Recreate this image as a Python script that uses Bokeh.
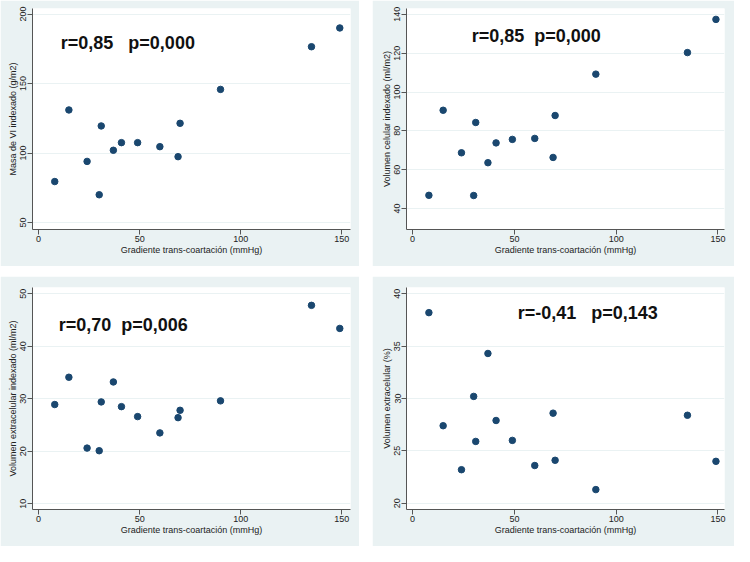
from bokeh.plotting import figure
from bokeh.layouts import row, column
from bokeh.models import FixedTicker, Range1d
from bokeh.core.properties import value
from bokeh.embed import file_html
from bokeh.resources import INLINE

# Data
gradiente = [8, 15, 24, 30, 31, 37, 41, 49, 60, 69, 70, 90, 135, 149]
masa_vi = [79.5, 131, 94, 70, 119.5, 102, 107.5, 107.5, 104.6, 97.4, 121.4, 145.8, 176.5, 190]
vol_celular = [46.8, 90.6, 68.7, 46.7, 84.3, 63.6, 73.8, 75.6, 76.1, 66.3, 87.9, 109.2, 120.3, 137.4]
vol_extracel = [28.9, 34.1, 20.6, 20.1, 29.4, 33.2, 28.5, 26.6, 23.5, 26.4, 27.8, 29.6, 47.8, 43.4]
vol_extra_pct = [38.2, 27.4, 23.2, 30.2, 25.9, 34.3, 27.9, 26.0, 23.6, 28.6, 24.1, 21.3, 28.4, 24.0]

x_ticks = [0, 50, 100, 150]
y_ticks_1 = [50, 100, 150, 200]
y_ticks_2 = [40, 60, 80, 100, 120, 140]
y_ticks_3 = [10, 20, 30, 40, 50]
y_ticks_4 = [20, 25, 30, 35, 40]

x_title = "Gradiente trans-coartación (mmHg)"
y_titles = ["Masa de VI indexado (g/m2)", "Volumen celular indexado (ml/m2)",
            "Volumen extracelular indexado (ml/m2)", "Volumen extracelular (%)"]
NB = "\u00a0"
stats = ["r=0,85" + NB * 3 + "p=0,000", "r=0,85" + NB * 2 + "p=0,000",
         "r=0,70" + NB * 2 + "p=0,006", "r=-0,41" + NB * 3 + "p=0,143"]
stat_x = [11, 29, 10, 51.6]
stat_y = [179, 128.7, 44.0, 38.2]

BG = "#eaf2f3"
NAVY = "#1a476f"
FONT = "Liberation Sans"
FONT_V = value(FONT)


def panel(yvals, yticks, xr, yr, ytitle, stat, sx, sy, w, h, ml, mr, mt, mb):
    p = figure(width=w, height=h, output_backend="svg", toolbar_location=None,
               x_range=Range1d(*xr), y_range=Range1d(*yr),
               min_border_left=ml, min_border_right=mr, min_border_top=mt,
               min_border_bottom=mb)
    p.border_fill_color = BG
    p.background_fill_color = "white"
    p.outline_line_color = None
    p.xgrid.visible = False
    p.ygrid.grid_line_color = BG
    p.ygrid.grid_line_width = 1
    p.xaxis.ticker = FixedTicker(ticks=x_ticks)
    p.yaxis.ticker = FixedTicker(ticks=yticks)
    p.xaxis.axis_label = x_title
    p.yaxis.axis_label = ytitle
    for ax in (p.xaxis, p.yaxis):
        ax.axis_line_color = "#555555"
        ax.major_tick_line_color = "#555555"
        ax.minor_tick_line_color = None
        ax.major_tick_out = 5
        ax.major_tick_in = 0
        ax.major_label_text_font = FONT
        ax.major_label_text_font_size = "9px"
        ax.major_label_text_color = "#222222"
        ax.axis_label_text_font = FONT
        ax.axis_label_text_font_size = "9px"
        ax.axis_label_text_font_style = "normal"
        ax.axis_label_text_color = "#222222"
        ax.major_label_standoff = 1
        ax.axis_label_standoff = 0
    p.yaxis.major_label_orientation = "vertical"
    p.scatter(gradiente, yvals, size=6.5, color=NAVY, line_color=NAVY)
    p.text(x=[sx], y=[sy], text=[stat], text_font_size="18px",
           text_font_style="bold", text_color="#111111",
           text_baseline="alphabetic", text_align="left", text_font=FONT_V)
    return p


p1 = panel(masa_vi, y_ticks_1, (-3, 154.3), (45, 204), y_titles[0], stats[0],
           stat_x[0], stat_y[0], 359, 266, 32, 9, 8, 37)
p2 = panel(vol_celular, y_ticks_2, (-3, 153.2), (29.2, 143), y_titles[1], stats[1],
           stat_x[1], stat_y[1], 362, 266, 34, 10, 8, 37)
p3 = panel(vol_extracel, y_ticks_3, (-3, 154.3), (8.9, 51.2), y_titles[2], stats[2],
           stat_x[2], stat_y[2], 359, 270, 32, 9, 11, 37)
p4 = panel(vol_extra_pct, y_ticks_4, (-3, 153.2), (19.4, 40.6), y_titles[3], stats[3],
           stat_x[3], stat_y[3], 362, 270, 34, 10, 11, 37)

layout = column(row(p1, p2, spacing=13), row(p3, p4, spacing=13), spacing=10)
open("out.html", "w").write(file_html(layout, INLINE))
